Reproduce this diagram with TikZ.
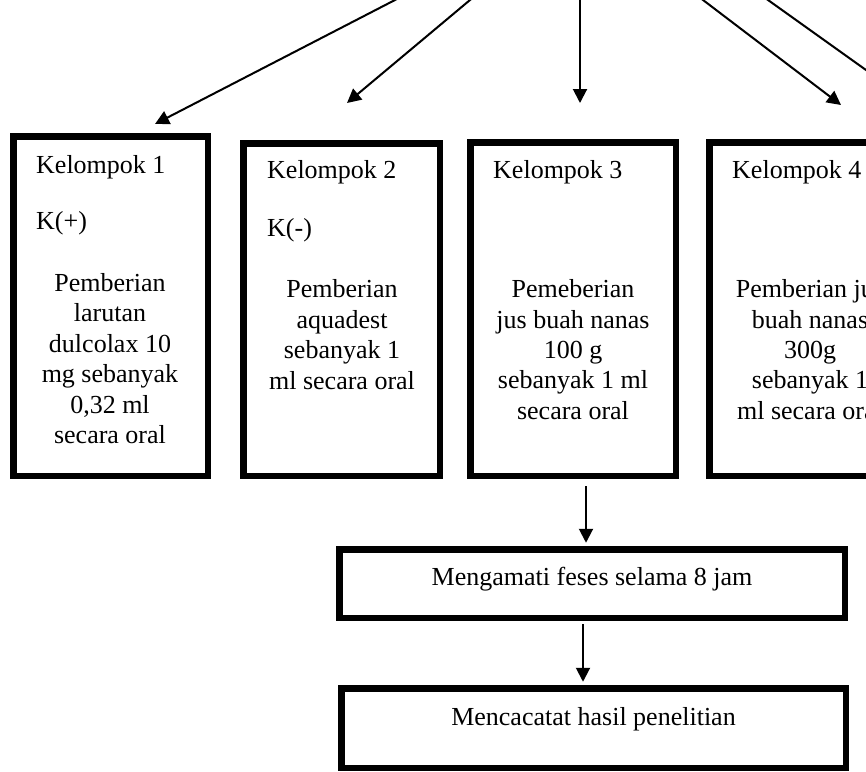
\documentclass[tikz,border=0pt]{standalone}
\usepackage{fontspec}
\setmainfont{Liberation Serif}
\usetikzlibrary{arrows.meta}
\begin{document}
\begin{tikzpicture}[x=1pt,y=-1pt,
  box/.style={draw, line width=6.5pt, rectangle, inner sep=0pt},
  lbl/.style={anchor=west, inner sep=0pt, font=\fontsize{26}{30.4}\selectfont},
  body/.style={align=center, inner sep=0pt, font=\fontsize{26}{30.4}\selectfont},
  arr/.style={line width=2pt, -{Triangle[length=14pt,width=14pt]}}]
\useasboundingbox (0,0) rectangle (866,771);
\clip (0,0) rectangle (866,771);
% boxes
\node[box, minimum width=194.5pt, minimum height=339.5pt] (b1) at (110.5,306) {};
\node[box, minimum width=196.5pt, minimum height=332.5pt] (b2) at (341.5,309.5) {};
\node[box, minimum width=205.5pt, minimum height=333.5pt] (b3) at (573,309) {};
\node[box, minimum width=205.5pt, minimum height=333.5pt] (b4) at (812,309) {};
\node[box, minimum width=505.5pt, minimum height=68.5pt] (m) at (592,583.5) {};
\node[box, minimum width=504.5pt, minimum height=79.5pt] (c) at (593.5,728) {};
% texts
\node[lbl] (k1) at (36,167) {Kelompok 1};
\node[lbl] (p1) at (36,223) {K(+)};
\node[body] (t1) at (110,358.5) {Pemberian\\larutan\\dulcolax 10\\mg sebanyak\\0,32 ml\\secara oral};
\node[lbl] (k2) at (267,172) {Kelompok 2};
\node[lbl] (p2) at (267,230) {K(-)};
\node[body] (t2) at (342,334.5) {Pemberian\\aquadest\\sebanyak 1\\ml secara oral};
\node[lbl] (k3) at (493,172) {Kelompok 3};
\node[body] (t3) at (573,349.5) {Pemeberian\\jus buah nanas\\100 g\\sebanyak 1 ml\\secara oral};
\node[lbl] (k4) at (732,172) {Kelompok 4};
\node[body] (t4) at (810,349.5) {Pemberian jus\\buah nanas\\300g\\sebanyak 1\\ml secara oral};
\node[body] (tm) at (592,579) {Mengamati feses selama 8 jam};
\node[body] (tc) at (593.5,719) {Mencacatat hasil penelitian};
% top arrows (origin above the picture)
\coordinate (s1) at (419,-12.4);
\coordinate (s2) at (482.3,-10.3);
\coordinate (s3) at (580,-10);
\coordinate (s4) at (689.2,-10.5);
\coordinate (s5) at (754,-10);
\coordinate (e1) at (155,124);
\coordinate (e2) at (347,103);
\coordinate (e3) at (580,103);
\coordinate (e4) at (841,105);
\coordinate (e5) at (908,100);
\draw[arr] (s1) -- (e1);
\draw[arr] (s2) -- (e2);
\draw[arr] (s3) -- (e3);
\draw[arr] (s4) -- (e4);
\draw[line width=2pt] (s5) -- (e5);
% lower arrows
\draw[arr, shorten >=3.25pt] ([xshift=13pt,yshift=-7pt]b3.south) -- ([xshift=13pt]b3.south |- m.north);
\draw[arr, shorten >=3.25pt] ([xshift=-9pt,yshift=-3pt]m.south) -- ([xshift=-9pt]m.south |- c.north);
\end{tikzpicture}
\end{document}
